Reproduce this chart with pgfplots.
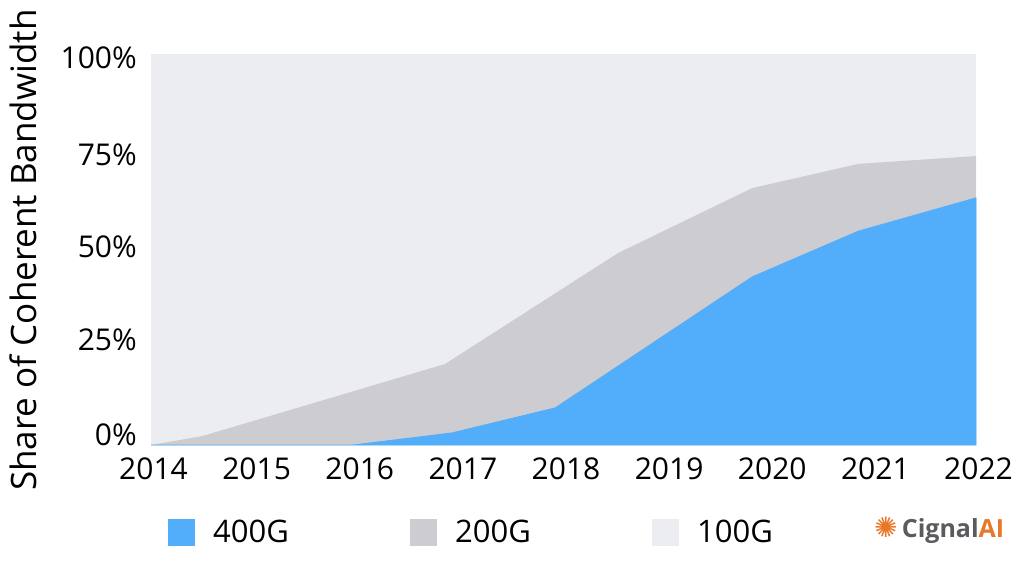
\documentclass[border=0pt]{standalone}
\usepackage{pgfplots}
\pgfplotsset{compat=1.18}
\usepackage{fontspec}
\setmainfont{Open Sans}
\newfontfamily\symfont{DejaVu Sans}
\definecolor{c400}{RGB}{82,174,250}
\definecolor{c200}{RGB}{205,204,208}
\definecolor{c100}{RGB}{236,237,241}
\definecolor{logoorange}{RGB}{232,120,40}
\definecolor{logogrey}{RGB}{90,90,95}
\begin{document}
\begin{tikzpicture}[x=1pt,y=1pt]
\path[use as bounding box] (0,0) rectangle (1019,560);
\begin{axis}[
  at={(151pt,115pt)}, anchor=south west,
  scale only axis, width=825pt, height=391pt,
  xmin=2014, xmax=2022, ymin=0, ymax=100,
  axis line style={draw=none},
  major tick length=0pt,
  tick style={draw=none},
  /pgf/number format/assume math mode=true,
  xtick={2014,2015,2016,2017,2018,2019,2020,2021,2022},
  xticklabels={2014,2015,2016,2017,2018,2019,2020,2021,2022},
  ytick={2.6,26.9,50.6,74.2,99},
  yticklabels={0\%,25\%,50\%,75\%,100\%},
  xticklabel style={font=\fontsize{30}{36}\selectfont, inner sep=0pt, anchor=north, xshift=2.5pt},
  xticklabel shift=13pt,
  yticklabel style={font=\fontsize{30}{36}\selectfont, inner sep=0pt, anchor=east},
  yticklabel shift=14pt,
  clip=false,
  legend columns=3,
  legend style={draw=none, fill=none, inner sep=0pt, column sep=0pt,
    at={(rel axis cs:0.0206,-0.225)}, anchor=west,
    font=\fontsize{31}{36}\selectfont,
    nodes={inner sep=0pt}},
  legend image code/.code={\fill[#1, draw=none] (0pt,-14pt) rectangle (27pt,13pt);},
]
% 100G background (fills to 100%)
\addplot[fill=c100, draw=none, forget plot] coordinates {(2014,100) (2022,100)} \closedcycle;
% 200G top (400G + 200G cumulative)
\addplot[fill=c200, draw=none, forget plot] table {
x y
2014.00 0
2014.50 2.3
2016.85 20.7
2018.53 49.1
2019.83 65.7
2020.86 71.9
2022.00 73.9
} \closedcycle;
% 400G
\addplot[fill=c400, draw=c400, line width=0.8pt, forget plot] table {
x y
2014.00 0
2015.96 0
2016.92 3.1
2017.92 9.5
2019.83 43.0
2020.86 54.7
2022.00 63.2
} \closedcycle;
\addlegendimage{fill=c400, draw=none}
\addlegendentry{\hspace*{18pt}\makebox[197pt][l]{400G}}
\addlegendimage{fill=c200, draw=none}
\addlegendentry{\hspace*{18pt}\makebox[197pt][l]{200G}}
\addlegendimage{fill=c100, draw=none}
\addlegendentry{\hspace*{18pt}\makebox[197pt][l]{100G}}
\end{axis}
\node[rotate=90, anchor=base, font=\fontsize{35}{42}\selectfont] at (36,310) {Share of Coherent Bandwidth};
\node[anchor=west, inner sep=0pt, font=\fontsize{25}{28}\selectfont\bfseries] at (874,30)
  {{\symfont\color{logoorange}\fontsize{28}{30}\selectfont ✺}\,{\color{logogrey}Cignal}{\color{logoorange}AI}};
\end{tikzpicture}
\end{document}
